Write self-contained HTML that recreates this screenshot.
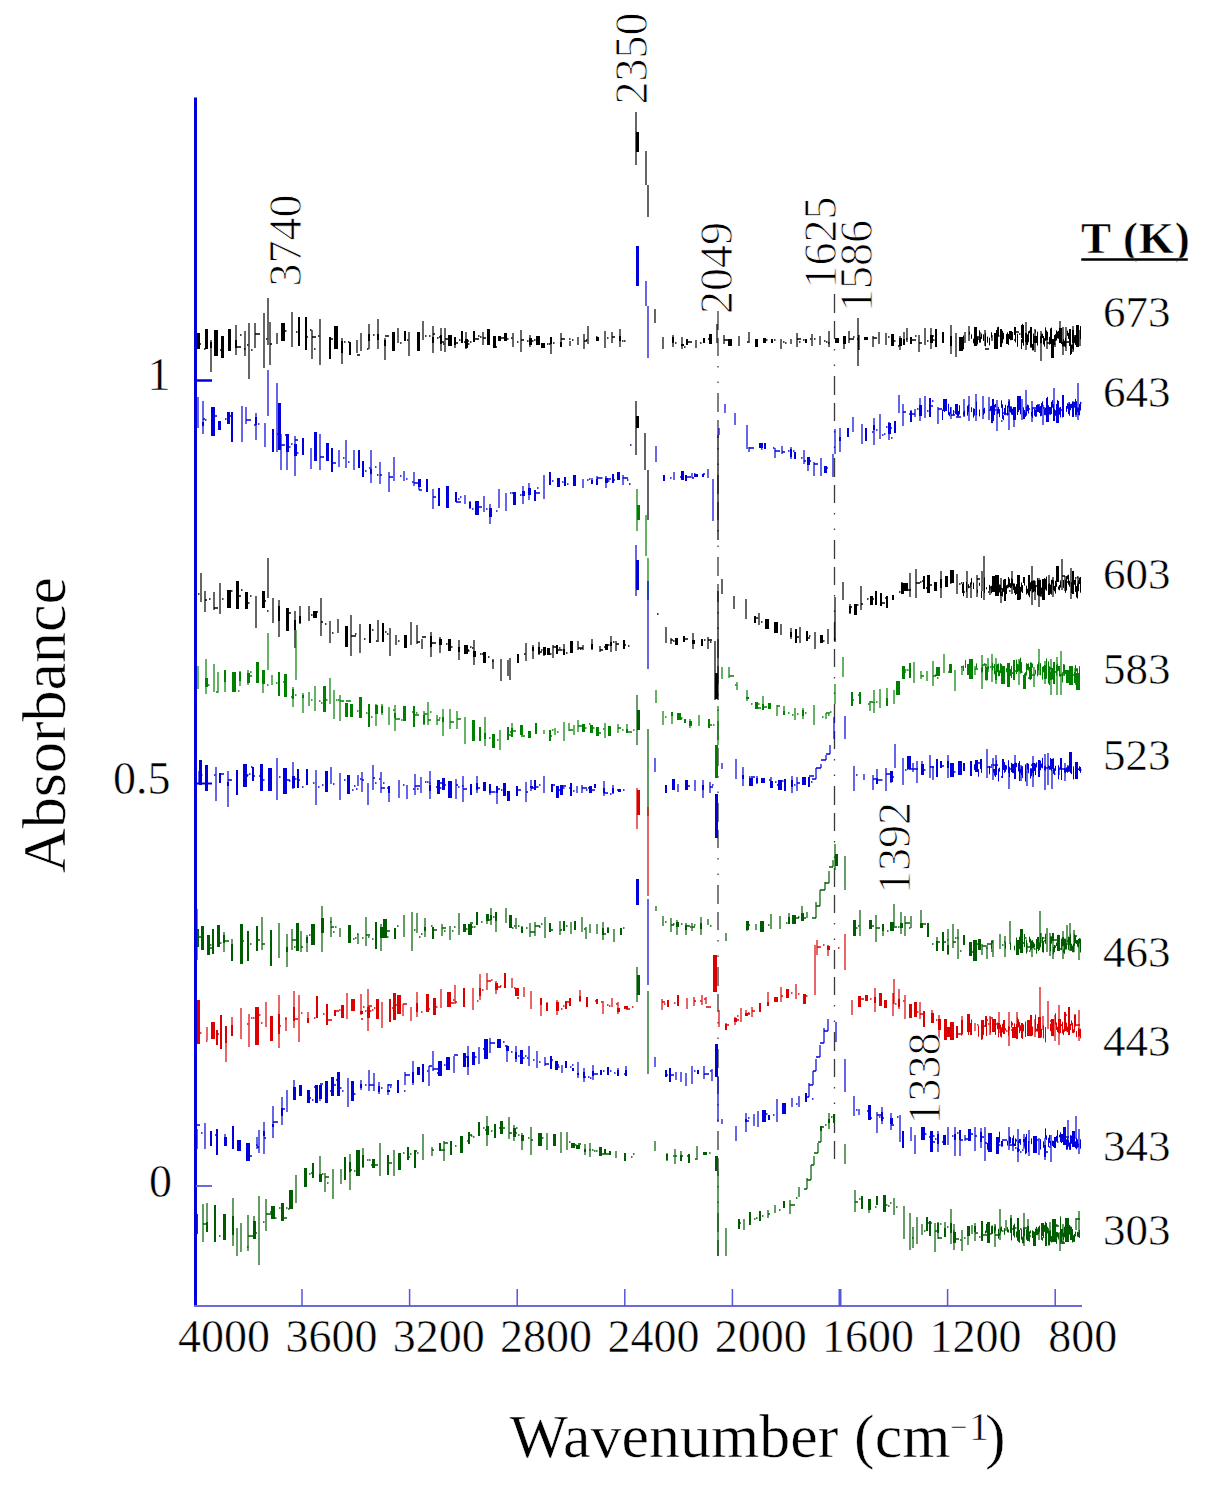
<!DOCTYPE html>
<html><head><meta charset="utf-8"><style>html,body{margin:0;padding:0;background:#fff;}svg{display:block;}</style></head>
<body><svg width="1207" height="1489" viewBox="0 0 1207 1489">
<rect width="1207" height="1489" fill="#fff"/>
<path d="M718 311V1256" stroke="#3a3a3a" stroke-width="1.3" stroke-dasharray="19 8 18 10 1.5 14 1.5 10" fill="none"/>
<path d="M834.5 294V1166" stroke="#3a3a3a" stroke-width="1.3" stroke-dasharray="19 8 18 10 1.5 14 1.5 10" fill="none"/>
<path d="M211 340V372M236 325V355M245 331V356M255 323V348M264 313V368M270 322V365M277 333V344M292 312V347M312 330V359M320 319V365M342 338V364M357 340V353M361 333V351M369 324V349M378 319V349M385 338V360M398 328V343M409 332V356M423 321V340M433 326V353M441 328V351M445 328V352M455 338V348M466 332V349M483 332V345M513 333V347M521 330V352M530 335V347M551 337V354M561 333V346M570 341V346M578 337V345M584 334V349M588 326V344M605 331V348M612 332V343M620 329V347M268 298V345M249 323V379M636 112V165M646 151V185M648 185V217M655 309V323M663 337V349M673 335V347M682 337V349M696 340V348M717 324V343M724 335V344M739 336V346M749 332V343M781 339V349M791 339V344M797 333V347M812 334V346M820 336V345M829 331V347M844 337V349M849 331V343M859 335V350M873 336V347M879 332V344M886 333V345M900 336V350M904 332V344M907 328V342M919 335V352M925 328V345M931 328V349M951 325V354M956 333V357M965 332V343M969 326V341M980 332V343M985 330V346M992 335V341M1026 322V350M1035 329V352M1041 331V361M1047 332V349M1055 335V347M1060 321V339M1063 327V355M1066 327V351M1073 326V352M1080 330V346M858 318V366" stroke="#000000" stroke-width="1.2" fill="none"/>
<path d="M211.0 342V348M236.0 340V348M299.0 317V346M306.0 317V350M330.0 337V359M342.0 341V353M350.0 342V355M369.0 334V341M378.0 334V340M385.0 340V346M405.0 331V341M433.0 337V343M441.0 335V344M455.0 337V345M462.0 331V343M474.0 331V342M551.0 337V344M561.0 342V347M620.0 336V341M673.0 337V343M687.0 339V345M704.0 338V343M772.0 339V343M806.0 339V343M904.0 339V345M911.0 337V344M936.0 329V347M943.0 332V343M951.0 336V346M980.0 337V342M1001.0 329V347M1015.0 327V335M1026.0 333V342M1031.0 327V344M1070.0 329V346M1073.0 330V343" stroke="#000000" stroke-width="2" fill="none"/>
<path d="M198.5 333V349M206.5 329V349M222.5 336V358M229.5 329V351M393.5 332V351M418.5 332V351M466.5 339V348M488.5 329V345M494.5 336V348M499.5 336V341M505.5 333V341M530.5 338V345M597.5 337V341M637.5 132V152M682.5 344V346M710.5 334V344M756.5 339V347M764.5 338V343M844.5 336V344M892.5 334V346M900.5 338V346M931.5 335V343M975.5 327V346M1007.5 334V344M1010.5 331V339M1022.5 325V338M1035.5 336V343M1052.5 339V358M1060.5 328V343M1077.5 325V347" stroke="#000000" stroke-width="3" fill="none"/>
<path d="M216.0 330V356M283.0 323V341M336.0 326V349M450.0 335V346M538.0 336V345M543.0 343V348M730.0 339V346M837.0 338V343M866.0 337V340M961.0 337V351M996.0 333V349" stroke="#000000" stroke-width="4" fill="none"/>
<path d="M962.5 339.0V347.6M963.5 335.5V349.3M969.5 331.8V334.7M971.5 334.3V338.8M973.5 338.7V343.3M974.5 338.8V343.2M976.5 337.8V344.9M977.5 336.9V344.5M978.5 338.3V339.8M979.5 330.3V341.2M981.5 333.6V338.9M983.5 334.4V340.9M985.5 333.2V346.4M987.5 336.6V342.7M989.5 337.7V345.4M991.5 332.3V337.7M996.5 330.0V336.2M997.5 327.2V335.6M998.5 326.8V336.1M1001.5 334.3V344.6M1002.5 330.8V343.2M1003.5 332.9V339.3M1007.5 332.4V342.6M1008.5 340.2V345.0M1010.5 332.6V340.2M1011.5 336.4V340.1M1012.5 332.0V340.0M1015.5 333.1V342.4M1017.5 333.8V346.7M1021.5 339.1V349.1M1022.5 323.8V342.8M1023.5 325.2V345.7M1026.5 336.0V344.8M1027.5 334.4V345.0M1028.5 331.3V342.2M1029.5 330.5V333.2M1030.5 330.3V347.6M1031.5 342.2V347.7M1032.5 344.0V350.4M1033.5 333.5V350.3M1035.5 330.3V332.6M1037.5 331.7V345.5M1040.5 336.2V343.4M1041.5 333.6V343.2M1042.5 333.8V338.1M1043.5 336.0V344.5M1044.5 338.2V346.6M1045.5 327.3V340.8M1046.5 330.4V340.3M1047.5 331.8V339.9M1049.5 336.8V344.7M1050.5 328.4V343.9M1051.5 327.7V340.5M1053.5 341.2V343.8M1054.5 335.3V344.9M1055.5 334.1V341.0M1056.5 330.4V340.5M1057.5 331.6V338.3M1058.5 330.9V338.8M1061.5 338.2V344.1M1062.5 341.7V346.5M1063.5 339.1V346.4M1064.5 340.7V346.5M1065.5 337.6V347.4M1067.5 330.6V335.9M1068.5 332.9V338.8M1069.5 331.4V342.3M1070.5 331.1V355.1M1071.5 344.6V353.9M1072.5 344.4V348.8M1073.5 336.6V350.4M1074.5 336.8V343.1M1075.5 335.3V344.9M1076.5 337.7V341.5M1077.5 336.7V339.2M1078.5 332.3V339.0M1080.5 326.1V339.2" stroke="#000000" stroke-width="1" fill="none"/>
<path d="M204 349h1.5M215 343h1.5M220 350h1.5M240 335h1.5M244 349h1.5M247 345h1.5M251 350h1.5M266 339h1.5M285 331h1.5M296 332h1.5M298 339h1.5M310 330h1.5M314 349h1.5M318 336h1.5M344 342h1.5M348 342h1.5M367 349h1.5M373 335h1.5M400 343h1.5M407 340h1.5M425 336h1.5M429 336h1.5M437 338h1.5M439 337h1.5M443 344h1.5M459 340h1.5M464 342h1.5M468 344h1.5M470 342h1.5M478 336h1.5M480 337h1.5M501 338h1.5M507 339h1.5M511 338h1.5M517 342h1.5M527 341h1.5M532 341h1.5M534 340h1.5M547 344h1.5M549 344h1.5M553 343h1.5M569 339h1.5M572 340h1.5M586 340h1.5M596 337h1.5M607 338h1.5M622 341h1.5M624 341h1.5M675 343h1.5M684 347h1.5M700 343h1.5M708 339h1.5M728 340h1.5M747 342h1.5M755 341h1.5M766 340h1.5M774 340h1.5M783 342h1.5M785 343h1.5M799 342h1.5M803 340h1.5M810 339h1.5M814 339h1.5M824 341h1.5M826 342h1.5M828 343h1.5M853 337h1.5M857 339h1.5M888 337h1.5M894 341h1.5M898 346h1.5M906 339h1.5M915 336h1.5M927 341h1.5M933 340h1.5M994 338h1.5M998 336h1.5M1014 340h1.5M1019 334h1.5M1033 341h1.5M1054 344h1.5M1068 338h1.5M1072 337h1.5M198 344h3M216 338h2M236 347h5M255 334h5M270 344h2M306 337h2M312 337h4M330 339h3M357 355h3M385 336h4M433 334h2M441 342h3M445 339h3M455 343h3M466 341h3M474 339h5M483 338h3M494 347h3M499 338h5M521 340h3M561 339h4M584 341h3M612 337h3M687 342h5M710 340h2M724 340h4M797 339h4M849 339h5M873 338h4M911 340h5M919 343h3M931 336h3M975 337h4M985 349h4M996 343h2M1015 332h4M1047 343h5M1066 342h4M1073 336h3" stroke="#000000" stroke-width="1.5" fill="none"/>
<path d="M198 397V428M203 401V434M242 406V442M246 407V424M256 413V440M265 423V447M281 434V470M287 440V470M295 436V476M311 448V469M320 434V470M339 450V467M346 440V468M354 450V470M371 450V483M380 462V484M389 472V492M394 457V481M404 471V481M414 472V486M419 479V490M433 489V509M465 495V504M470 501V509M484 496V512M490 504V524M499 489V508M506 493V511M523 486V504M529 483V500M544 475V499M583 479V488M592 478V484M597 476V483M606 476V488M623 475V485M268 370V416M277 383V452M646 281V306M648 306V358M656 446V462M664 475V481M674 472V480M692 473V478M708 469V478M713 479V521M719 428V435M725 404V413M735 413V425M747 425V449M747 448V449M749 447V452M775 448V458M782 446V454M791 447V459M804 450V464M808 458V471M814 462V476M821 458V476M833 454V477M835 429V454M840 428V452M853 417V432M862 424V444M874 418V445M880 414V439M889 422V440M899 395V413M903 404V426M911 410V420M915 409V417M920 398V421M925 396V418M938 407V424M951 407V419M964 399V417M969 396V421M976 394V421M983 396V419M989 397V420M997 400V431M1009 399V430M1014 408V427M1022 399V420M1026 390V416M1032 401V422M1043 405V425M1054 388V412M1069 402V411M1073 401V414M1076 402V417M1078 398V409M1078 383V420" stroke="#0000dd" stroke-width="1.2" fill="none"/>
<path d="M203.0 422V426M232.0 412V442M256.0 417V425M273.0 429V452M303.0 438V455M332.0 448V472M359.0 450V468M363.0 461V477M371.0 469V474M427.0 479V492M439.0 488V506M456.0 492V502M470.0 502V508M535.0 490V501M550.0 472V485M565.0 477V486M592.0 480V484M597.0 479V485M613.0 474V483M664.0 475V481M686.0 475V481M703.0 474V477M765.0 443V449M791.0 449V457M795.0 452V459M840.0 437V441M848.0 428V437M866.0 428V441M874.0 425V430M895.0 421V433M911.0 411V422M930.0 398V417M993.0 399V421M1005.0 408V415M1063.0 395V417M1073.0 402V417M1076.0 402V415" stroke="#0000dd" stroke-width="2" fill="none"/>
<path d="M219.5 421V430M228.5 412V424M287.5 434V452M295.5 444V456M315.5 432V461M327.5 443V461M419.5 479V487M447.5 486V508M490.5 508V517M514.5 492V505M523.5 491V496M529.5 488V495M558.5 478V487M574.5 475V486M606.5 478V483M618.5 472V480M279.5 403V450M637.5 246V286M682.5 471V480M808.5 457V465M825.5 466V473M889.5 423V434M920.5 405V416M956.5 404V414M1014.5 407V420M1037.5 405V412M1047.5 408V422M1050.5 407V414M1057.5 404V423" stroke="#0000dd" stroke-width="3" fill="none"/>
<path d="M213.0 407V436M477.0 501V515M696.0 474V477M761.0 443V448M945.0 399V411M1019.0 396V410" stroke="#0000dd" stroke-width="4" fill="none"/>
<path d="M942.5 409.6V420.0M944.5 406.5V412.0M948.5 403.8V415.0M949.5 412.0V416.3M950.5 407.4V413.8M953.5 410.1V415.4M956.5 410.4V414.8M957.5 413.4V416.7M958.5 411.0V416.2M959.5 405.2V414.5M963.5 411.9V415.4M964.5 410.4V416.0M967.5 405.7V415.7M968.5 404.5V412.2M971.5 407.2V412.1M973.5 408.3V417.6M974.5 408.8V415.6M976.5 401.5V415.1M979.5 409.5V416.4M983.5 408.7V414.9M984.5 407.8V413.5M990.5 406.2V411.1M991.5 405.8V423.1M992.5 408.8V423.1M994.5 404.7V415.0M995.5 403.9V407.4M997.5 409.1V413.9M998.5 406.8V413.6M999.5 409.1V417.2M1001.5 400.3V407.9M1002.5 404.3V418.9M1003.5 415.2V420.2M1005.5 404.8V415.2M1007.5 405.6V415.6M1008.5 401.3V407.5M1009.5 400.6V411.8M1010.5 406.3V412.5M1011.5 406.4V414.6M1012.5 408.7V415.0M1013.5 410.6V412.8M1014.5 411.1V417.2M1015.5 411.4V416.7M1017.5 407.1V415.0M1018.5 404.1V411.9M1020.5 403.3V414.3M1023.5 407.3V419.1M1024.5 410.0V419.0M1025.5 412.2V416.9M1026.5 406.4V415.1M1027.5 404.5V411.2M1028.5 405.1V413.6M1031.5 412.1V416.4M1032.5 408.3V418.0M1034.5 408.6V415.7M1035.5 409.4V416.9M1036.5 409.2V416.6M1037.5 410.2V412.1M1039.5 406.8V413.0M1040.5 406.1V416.3M1041.5 403.1V415.9M1042.5 401.3V406.7M1044.5 409.1V415.1M1045.5 407.7V415.2M1046.5 398.0V414.7M1047.5 396.8V408.0M1048.5 405.3V416.7M1049.5 408.0V414.5M1050.5 409.3V414.8M1051.5 401.7V412.9M1052.5 400.1V407.7M1053.5 404.3V421.1M1054.5 409.1V421.0M1055.5 410.9V415.8M1056.5 408.0V415.9M1057.5 399.9V413.5M1058.5 400.9V414.8M1059.5 407.6V414.8M1060.5 406.9V417.4M1062.5 408.2V417.5M1063.5 406.9V412.5M1066.5 406.0V411.9M1067.5 403.3V408.8M1068.5 404.0V414.1M1069.5 402.4V415.8M1070.5 404.0V410.2M1071.5 403.7V408.1M1072.5 405.5V413.2M1074.5 401.9V407.6M1075.5 398.9V406.7M1076.5 401.2V412.0M1077.5 407.4V412.1M1078.5 407.6V415.0M1079.5 403.9V415.4M1080.5 401.8V410.5" stroke="#0000dd" stroke-width="1" fill="none"/>
<path d="M205 420h1.5M211 430h1.5M225 419h1.5M254 425h1.5M258 424h1.5M277 434h1.5M285 435h1.5M289 447h1.5M291 444h1.5M297 453h1.5M343 458h1.5M348 462h1.5M365 471h1.5M369 468h1.5M375 467h1.5M377 475h1.5M400 476h1.5M406 479h1.5M412 482h1.5M458 499h1.5M460 497h1.5M472 509h1.5M486 509h1.5M496 511h1.5M510 493h1.5M512 493h1.5M520 495h1.5M522 493h1.5M537 488h1.5M552 481h1.5M562 482h1.5M567 484h1.5M587 480h1.5M589 479h1.5M601 478h1.5M608 481h1.5M612 480h1.5M627 480h1.5M630 445h1.5M670 478h1.5M680 477h1.5M694 474h1.5M761 449h1.5M773 448h1.5M788 451h1.5M793 451h1.5M801 458h1.5M872 432h1.5M876 430h1.5M882 435h1.5M884 434h1.5M886 427h1.5M891 438h1.5M909 414h1.5M917 409h1.5M927 411h1.5M932 401h1.5M953 412h1.5M995 410h1.5M1001 421h1.5M1003 413h1.5M1039 407h1.5M1045 411h1.5M1080 403h1.5M203 419h2M213 416h4M228 416h3M246 420h5M281 445h4M295 440h3M320 457h4M332 463h4M380 475h2M389 477h4M414 483h5M419 490h3M433 497h3M456 502h5M477 507h5M535 493h5M597 478h5M606 479h5M613 480h2M623 478h5M686 477h5M692 478h2M703 474h2M749 448h5M761 447h2M775 451h5M782 452h3M804 461h2M808 461h3M814 464h4M825 468h3M889 428h3M903 412h3M911 414h4M920 408h2M930 406h3M938 409h4M951 415h4M956 417h5M989 410h3M1005 414h4M1019 409h2M1026 409h4M1032 408h4M1037 405h3M1043 408h2M1050 409h2M1054 411h5M1057 410h5" stroke="#0000dd" stroke-width="1.5" fill="none"/>
<path d="M196 582V601M201 573V602M205 591V612M214 592V610M220 583V614M256 596V628M273 598V623M279 600V637M295 611V648M300 606V624M309 606V621M321 598V636M330 621V643M338 619V633M351 615V656M360 624V653M378 620V642M390 628V656M396 635V645M411 622V645M417 625V644M422 639V649M431 632V657M440 637V653M459 640V660M474 640V665M493 659V669M501 659V681M510 658V680M526 643V661M533 645V659M539 642V655M544 649V656M553 645V658M564 644V653M578 641V650M583 645V650M592 639V650M600 646V652M606 644V649M611 636V652M616 641V651M268 558V598M508 660V676M636 401V455M645 433V470M648 470V520M666 627V643M671 638V644M684 636V641M693 633V649M708 637V649M715 641V700M718 591V700M718 435V540M722 579V594M734 596V609M746 599V619M759 613V625M781 624V635M791 628V639M800 627V643M815 632V649M828 629V644M835 597V642M843 582V600M850 604V614M861 586V610M902 582V592M910 573V597M916 569V598M941 571V598M957 574V594M967 571V598M971 582V598M977 575V597M982 571V591M990 586V595M1001 578V603M1012 571V594M1032 566V605M1035 581V600M1039 578V607M1049 575V595M1053 577V597M1062 559V590M1065 576V591M1071 568V599M1078 577V586M984 556V600" stroke="#000000" stroke-width="1.2" fill="none"/>
<path d="M196.0 591V604M279.0 606V621M295.0 620V630M300.0 616V623M370.0 624V643M383.0 623V642M431.0 636V647M459.0 647V652M518.0 654V663M533.0 647V651M539.0 647V654M557.0 645V654M564.0 649V655M592.0 644V649M611.0 642V646M624.0 640V649M684.0 636V642M702.0 639V646M755.0 616V623M791.0 632V637M796.0 629V643M807.0 631V641M850.0 606V613M876.0 591V605M881.0 593V606M887.0 596V608M893.0 595V600M924.0 576V589M941.0 579V588M963.0 584V593M1005.0 579V601M1024.0 577V583M1029.0 575V592M1032.0 581V589M1035.0 585V591M1049.0 587V595M1073.0 571V594" stroke="#000000" stroke-width="2" fill="none"/>
<path d="M237.5 581V609M246.5 592V609M263.5 591V608M287.5 608V631M346.5 626V647M405.5 635V648M440.5 639V645M449.5 639V651M474.5 651V657M484.5 652V663M544.5 647V655M548.5 648V655M571.5 641V653M606.5 644V650M637.5 416V428M676.5 638V645M693.5 640V644M716.5 673V699M821.5 635V643M855.5 604V615M871.5 596V605M902.5 583V594M928.5 575V593M935.5 582V591M946.5 576V587M993.5 576V592M1018.5 575V600M1039.5 580V591M1043.5 579V600M1057.5 566V582" stroke="#000000" stroke-width="3" fill="none"/>
<path d="M229.0 590V608M315.0 611V618M466.0 645V654M767.0 619V629M776.0 622V633M906.0 583V591M952.0 570V583M997.0 575V596" stroke="#000000" stroke-width="4" fill="none"/>
<path d="M963.5 582.1V596.2M966.5 581.7V591.8M968.5 584.2V588.3M970.5 583.2V586.5M971.5 578.2V584.3M973.5 582.6V589.0M977.5 589.6V592.8M979.5 582.7V585.9M981.5 591.1V598.0M984.5 577.4V593.0M986.5 587.3V589.3M989.5 584.9V590.6M991.5 585.8V593.2M994.5 581.3V591.8M995.5 581.0V585.0M997.5 579.5V594.4M998.5 589.3V592.8M999.5 584.5V592.5M1000.5 584.8V596.0M1001.5 591.5V596.0M1002.5 588.4V596.5M1003.5 579.8V591.9M1004.5 581.4V584.4M1005.5 582.9V591.9M1006.5 585.3V594.0M1007.5 584.6V588.3M1008.5 577.0V587.7M1009.5 578.8V587.1M1010.5 583.2V588.1M1011.5 578.1V587.7M1012.5 579.1V585.9M1013.5 583.3V589.9M1014.5 583.6V593.1M1015.5 586.5V595.0M1016.5 584.1V594.0M1017.5 584.3V587.2M1018.5 579.6V586.8M1019.5 577.8V599.4M1020.5 586.9V599.3M1021.5 582.5V591.7M1022.5 585.1V593.0M1024.5 577.7V585.6M1026.5 585.6V594.5M1027.5 588.8V593.4M1028.5 587.9V595.4M1029.5 586.4V597.1M1030.5 583.1V591.2M1032.5 583.3V592.7M1033.5 580.3V592.1M1034.5 580.4V591.0M1035.5 586.7V592.2M1037.5 578.1V595.2M1038.5 590.1V596.2M1039.5 581.7V595.9M1040.5 579.8V596.5M1041.5 587.6V594.8M1042.5 587.1V591.9M1043.5 583.0V589.1M1044.5 578.2V588.7M1045.5 578.8V589.7M1046.5 576.6V590.7M1048.5 584.2V590.3M1049.5 583.0V588.8M1050.5 584.6V593.8M1051.5 579.8V594.6M1052.5 579.7V583.7M1053.5 580.5V589.9M1054.5 586.0V591.3M1055.5 580.7V593.6M1056.5 582.4V586.8M1058.5 586.5V589.6M1059.5 585.0V590.3M1060.5 580.4V587.6M1063.5 579.9V587.9M1065.5 579.6V592.8M1066.5 576.1V590.5M1067.5 575.3V579.2M1068.5 574.7V584.7M1069.5 580.8V586.7M1071.5 582.2V593.0M1072.5 583.9V589.2M1073.5 580.5V588.7M1074.5 580.0V584.8M1075.5 579.4V591.9M1076.5 586.1V597.4M1077.5 583.7V598.5M1078.5 580.5V591.2M1079.5 577.7V584.1M1080.5 577.0V592.7" stroke="#000000" stroke-width="1" fill="none"/>
<path d="M198 594h1.5M209 599h1.5M222 599h1.5M231 591h1.5M239 596h1.5M241 590h1.5M245 593h1.5M248 603h1.5M250 596h1.5M267 611h1.5M311 615h1.5M325 624h1.5M332 633h1.5M355 634h1.5M364 639h1.5M372 630h1.5M376 641h1.5M385 632h1.5M387 634h1.5M398 641h1.5M404 645h1.5M439 641h1.5M446 644h1.5M451 647h1.5M468 651h1.5M470 647h1.5M472 648h1.5M480 654h1.5M482 654h1.5M488 657h1.5M492 661h1.5M524 654h1.5M541 650h1.5M550 654h1.5M559 648h1.5M561 650h1.5M566 653h1.5M580 649h1.5M604 647h1.5M608 645h1.5M613 642h1.5M628 646h1.5M629 484h1.5M657 614h1.5M673 641h1.5M686 639h1.5M704 640h1.5M710 642h1.5M761 622h1.5M765 625h1.5M809 636h1.5M823 641h1.5M834 639h1.5M857 605h1.5M867 599h1.5M885 598h1.5M899 592h1.5M901 589h1.5M920 582h1.5M922 581h1.5M926 588h1.5M950 583h1.5M959 584h1.5M961 583h1.5M969 587h1.5M988 592h1.5M995 577h1.5M1009 591h1.5M1016 590h1.5M1041 596h1.5M1055 583h1.5M1067 582h1.5M1075 578h1.5M1077 577h1.5M205 600h2M214 608h4M237 596h4M263 601h3M287 613h4M315 612h3M321 622h2M351 636h5M417 642h3M422 637h4M431 643h5M466 650h3M539 652h3M553 647h4M557 650h5M578 648h5M600 650h3M616 644h3M624 645h2M671 640h2M684 639h4M708 640h4M755 618h3M796 637h3M807 638h3M850 607h2M855 606h2M861 604h2M871 599h3M881 603h4M906 590h5M916 583h4M928 585h4M963 592h2M977 579h3M990 588h2M1001 589h3M1029 583h2M1032 587h4M1035 586h2M1062 576h3M1073 581h2" stroke="#000000" stroke-width="1.5" fill="none"/>
<path d="M198 666V689M206 659V694M214 664V692M218 672V693M225 675V692M240 671V686M248 670V685M263 672V693M272 675V685M293 687V707M303 693V713M309 692V706M315 686V711M330 678V704M334 690V719M340 695V721M376 704V726M382 704V715M389 707V725M395 705V731M424 711V725M428 702V725M437 715V725M443 709V736M450 709V729M457 711V729M465 717V744M485 717V746M500 730V750M512 723V734M544 730V734M555 728V735M564 722V741M569 723V731M574 725V735M578 720V732M605 723V738M618 724V733M627 724V733M268 633V670M296 630V680M637 489V531M646 515V556M648 558V600M656 690V703M663 711V725M672 713V724M690 719V728M699 715V726M718 706V745M722 667V679M729 667V678M737 682V690M747 690V701M763 696V709M769 703V709M777 705V716M784 706V715M795 708V720M803 708V719M814 705V725M826 713V719M835 684V704M843 657V677M870 701V711M874 690V713M880 689V708M887 688V705M894 690V704M914 662V683M921 671V679M927 671V681M933 661V686M944 654V673M955 670V691M962 666V675M975 666V675M982 655V689M988 658V672M992 654V682M996 658V684M1019 659V685M1034 667V687M1039 649V675M1045 661V684M1051 659V695M1057 657V695M1061 651V695M1075 668V682" stroke="#008000" stroke-width="1.2" fill="none"/>
<path d="M225.0 670V682M240.0 672V681M279.0 672V696M293.0 689V699M303.0 695V698M369.0 704V727M382.0 706V713M395.0 713V718M414.0 706V727M424.0 715V724M443.0 717V722M480.0 727V741M485.0 733V739M508.0 727V740M512.0 728V737M536.0 723V734M550.0 730V741M627.0 729V733M672.0 712V716M685.0 719V723M709.0 719V728M763.0 704V710M784.0 711V715M803.0 710V716M852.0 692V706M860.0 692V704M874.0 702V703M887.0 698V706M910.0 663V678M968.0 664V675M996.0 671V680M1014.0 660V680M1045.0 665V679M1051.0 672V680M1054.0 662V684M1075.0 672V683" stroke="#008000" stroke-width="2" fill="none"/>
<path d="M206.5 678V687M248.5 673V683M257.5 662V683M263.5 670V684M285.5 674V697M324.5 686V712M346.5 703V717M351.5 704V717M360.5 697V718M376.5 705V714M404.5 706V721M473.5 720V741M493.5 734V748M521.5 725V735M529.5 731V738M583.5 724V732M591.5 725V733M597.5 727V736M609.5 726V736M638.5 505V520M690.5 721V726M716.5 745V778M747.5 697V699M756.5 702V709M769.5 703V709M903.5 666V679M950.5 664V673M1008.5 663V687M1024.5 675V689M1030.5 667V679M1067.5 670V683" stroke="#008000" stroke-width="3" fill="none"/>
<path d="M234.0 672V692M679.0 713V720M898.0 681V695M938.0 667V676M971.0 659V679M1003.0 666V684M1071.0 666V685M1078.0 673V690" stroke="#008000" stroke-width="4" fill="none"/>
<path d="M963.5 665.4V671.1M965.5 659.9V667.9M969.5 667.2V675.8M971.5 669.8V674.0M976.5 663.4V668.4M981.5 667.5V672.7M982.5 666.2V672.1M985.5 665.9V680.2M986.5 666.6V680.6M987.5 666.4V680.2M988.5 666.4V669.2M992.5 663.1V670.5M994.5 664.1V674.3M996.5 664.5V673.8M997.5 664.1V672.3M998.5 663.5V676.2M999.5 670.3V676.2M1000.5 663.3V673.2M1001.5 664.1V669.5M1002.5 665.8V672.1M1006.5 668.1V672.3M1008.5 665.1V670.9M1010.5 669.1V675.9M1011.5 665.9V678.0M1014.5 671.4V675.9M1016.5 659.6V674.0M1017.5 663.9V672.0M1018.5 664.7V670.9M1019.5 660.5V671.5M1020.5 657.6V673.6M1021.5 662.1V673.1M1023.5 681.2V682.7M1024.5 673.4V683.4M1025.5 672.2V675.8M1026.5 663.2V675.5M1027.5 664.0V669.9M1028.5 663.4V670.5M1029.5 667.0V679.4M1030.5 662.3V679.9M1031.5 662.6V669.4M1032.5 663.6V667.6M1035.5 669.8V674.5M1037.5 664.3V676.3M1038.5 662.2V670.3M1040.5 663.2V675.3M1042.5 666.8V679.6M1043.5 666.0V672.4M1046.5 658.4V678.8M1048.5 661.4V683.6M1049.5 666.3V685.2M1050.5 667.2V669.4M1051.5 667.8V672.4M1052.5 668.0V679.5M1053.5 670.8V682.1M1054.5 669.8V673.8M1055.5 671.1V672.8M1056.5 664.8V675.6M1057.5 663.7V671.4M1058.5 666.0V670.8M1059.5 666.0V676.5M1060.5 673.8V676.6M1062.5 672.2V682.4M1063.5 664.1V673.9M1064.5 664.5V674.9M1065.5 669.9V674.1M1069.5 673.0V681.0M1070.5 669.7V682.4M1071.5 669.2V683.9M1072.5 671.8V684.0M1075.5 665.0V680.4M1076.5 668.3V671.4M1077.5 668.3V679.0M1078.5 673.5V678.9M1079.5 666.2V676.0" stroke="#008000" stroke-width="1" fill="none"/>
<path d="M208 685h1.5M216 692h1.5M238 691h1.5M250 672h1.5M267 685h1.5M276 683h1.5M283 682h1.5M291 697h1.5M295 695h1.5M311 700h1.5M319 701h1.5M321 703h1.5M323 691h1.5M326 700h1.5M336 700h1.5M338 700h1.5M357 711h1.5M366 713h1.5M371 717h1.5M393 710h1.5M401 720h1.5M403 719h1.5M412 712h1.5M416 713h1.5M426 714h1.5M430 712h1.5M439 718h1.5M489 738h1.5M497 740h1.5M510 732h1.5M552 730h1.5M557 732h1.5M585 728h1.5M589 724h1.5M593 728h1.5M603 729h1.5M622 730h1.5M633 730h1.5M665 717h1.5M681 718h1.5M713 725h1.5M735 685h1.5M751 704h1.5M758 704h1.5M788 713h1.5M792 715h1.5M797 714h1.5M805 713h1.5M822 717h1.5M828 715h1.5M830 712h1.5M858 695h1.5M868 704h1.5M876 702h1.5M902 674h1.5M905 670h1.5M907 670h1.5M935 675h1.5M937 678h1.5M948 672h1.5M961 667h1.5M984 664h1.5M990 667h1.5M994 671h1.5M1012 673h1.5M1021 672h1.5M1028 678h1.5M1073 675h1.5M248 676h4M257 682h2M263 679h2M285 687h2M324 698h2M340 701h4M346 701h5M376 708h2M395 719h5M414 715h5M424 714h3M428 720h3M437 720h3M450 722h4M457 719h4M508 735h5M512 731h4M521 736h4M550 736h2M569 730h4M578 726h4M591 730h2M597 733h4M609 732h2M618 728h3M627 732h5M679 719h3M709 725h3M729 676h5M756 708h5M763 707h4M777 706h3M826 713h4M852 700h2M870 702h3M903 672h3M921 676h3M933 676h3M975 669h3M982 665h5M992 667h2M1008 673h2M1014 671h3M1030 675h5M1061 675h4M1075 684h4" stroke="#008000" stroke-width="1.5" fill="none"/>
<path d="M199 771V784M216 767V801M228 771V807M277 758V800M293 762V789M316 770V805M331 767V784M340 773V800M358 775V786M362 772V792M368 783V805M373 765V790M381 772V793M389 786V802M399 780V798M407 785V799M415 774V795M421 777V793M430 771V799M456 779V799M463 776V802M477 776V793M490 785V795M497 786V804M526 782V802M531 780V791M544 776V793M577 786V793M582 785V793M590 786V793M604 781V796M613 785V794M636 545V596M648 581V669M655 758V772M678 784V792M695 780V791M703 780V798M710 782V793M722 763V769M736 759V779M743 767V786M757 776V784M771 777V786M792 776V793M797 777V791M816 768V779M821 764V768M826 755V760M830 745V754M834 717V739M845 716V739M854 766V791M864 774V780M873 775V790M877 769V782M886 768V791M891 771V783M895 744V768M903 758V785M913 763V772M917 761V783M922 761V774M930 755V778M933 766V780M948 755V778M987 749V778M993 758V780M996 755V775M1009 767V789M1015 755V776M1021 765V781M1027 763V786M1033 756V787M1045 754V790M1048 753V785M1052 770V789M1059 767V775M1065 763V781" stroke="#0000dd" stroke-width="1.2" fill="none"/>
<path d="M220.0 773V783M228.0 782V786M237.0 770V795M253.0 767V781M298.0 769V788M307.0 769V785M389.0 786V793M430.0 785V791M471.0 784V795M477.0 783V790M490.0 784V793M497.0 786V793M517.0 786V796M535.0 780V790M552.0 784V792M571.0 783V796M595.0 784V788M604.0 788V793M613.0 788V793M666.0 785V793M703.0 785V790M743.0 775V779M757.0 778V783M785.0 779V791M792.0 780V787M809.0 777V787M877.0 778V784M937.0 759V777M941.0 761V768M948.0 761V768M964.0 763V771M971.0 761V776M981.0 759V769M996.0 765V775M1003.0 759V770M1009.0 768V773M1015.0 767V779M1021.0 769V773M1039.0 760V777" stroke="#0000dd" stroke-width="2" fill="none"/>
<path d="M206.5 765V791M261.5 764V791M293.5 776V788M326.5 771V792M348.5 775V794M438.5 780V794M443.5 778V790M484.5 782V791M504.5 783V796M508.5 791V801M531.5 786V788M557.5 786V798M561.5 785V795M590.5 786V793M619.5 789V792M200.5 760V785M637.5 560V590M673.5 779V790M686.5 780V790M716.5 794V838M771.5 781V788M891.5 771V782M922.5 764V775M976.5 760V772M1033.5 763V771M1070.5 752V770M1076.5 762V779" stroke="#0000dd" stroke-width="3" fill="none"/>
<path d="M245.0 764V787M270.0 768V791M285.0 768V794M450.0 781V798M751.0 778V786M763.0 778V783M780.0 780V790M804.0 777V785M909.0 756V769M952.0 763V777M960.0 761V775" stroke="#0000dd" stroke-width="4" fill="none"/>
<path d="M971.5 768.5V774.0M974.5 764.3V769.9M976.5 766.6V770.4M978.5 769.2V776.7M981.5 768.6V772.9M989.5 765.9V774.3M993.5 769.1V772.6M994.5 769.0V775.6M995.5 773.4V777.0M996.5 760.1V774.9M998.5 768.6V781.6M999.5 767.7V771.7M1001.5 776.2V777.7M1002.5 764.6V778.0M1004.5 762.1V772.8M1005.5 764.9V771.8M1006.5 765.4V769.6M1008.5 760.2V771.3M1009.5 766.8V777.0M1011.5 762.9V772.0M1012.5 763.7V772.9M1013.5 764.0V773.1M1014.5 763.0V770.7M1015.5 762.5V770.4M1016.5 763.0V767.2M1018.5 763.1V771.5M1019.5 761.0V781.1M1021.5 766.5V775.2M1022.5 766.2V778.1M1025.5 764.4V781.6M1027.5 763.1V769.5M1028.5 763.8V773.2M1030.5 768.3V778.5M1031.5 768.3V776.2M1032.5 769.1V773.2M1033.5 768.6V776.6M1035.5 763.7V775.1M1036.5 762.4V767.4M1038.5 763.3V772.8M1039.5 764.2V771.2M1040.5 760.6V770.3M1041.5 763.6V767.7M1042.5 757.8V768.3M1044.5 766.2V770.3M1045.5 765.7V770.7M1048.5 765.2V768.3M1049.5 766.0V769.8M1050.5 758.0V769.7M1051.5 759.0V770.9M1052.5 758.7V769.3M1053.5 758.3V773.7M1054.5 768.3V774.7M1055.5 765.8V770.9M1058.5 765.2V779.4M1060.5 758.0V769.2M1061.5 758.1V780.0M1064.5 768.0V772.6M1065.5 768.4V773.3M1066.5 767.4V771.9M1067.5 766.8V772.7M1068.5 766.1V771.9M1069.5 768.9V771.6M1070.5 765.9V773.0M1071.5 768.4V774.1M1073.5 766.3V779.4M1075.5 768.0V775.0M1076.5 769.1V773.5M1077.5 766.2V772.1M1078.5 768.4V770.1M1079.5 766.2V771.1M1080.5 767.0V772.9" stroke="#0000dd" stroke-width="1" fill="none"/>
<path d="M201 775h1.5M214 775h1.5M247 775h1.5M249 774h1.5M251 767h1.5M259 776h1.5M263 780h1.5M279 777h1.5M289 781h1.5M295 779h1.5M302 787h1.5M313 783h1.5M318 787h1.5M322 785h1.5M333 784h1.5M344 780h1.5M352 790h1.5M354 786h1.5M356 789h1.5M360 779h1.5M375 783h1.5M379 779h1.5M383 783h1.5M387 788h1.5M403 785h1.5M413 789h1.5M417 789h1.5M425 782h1.5M427 782h1.5M429 783h1.5M436 787h1.5M440 788h1.5M458 787h1.5M462 786h1.5M494 792h1.5M501 790h1.5M537 787h1.5M539 785h1.5M559 790h1.5M563 788h1.5M569 788h1.5M573 791h1.5M586 790h1.5M588 788h1.5M610 794h1.5M617 790h1.5M623 790h1.5M712 785h1.5M749 777h1.5M761 781h1.5M769 780h1.5M775 782h1.5M777 785h1.5M782 781h1.5M794 785h1.5M803 780h1.5M811 782h1.5M856 775h1.5M881 780h1.5M905 770h1.5M907 769h1.5M924 770h1.5M950 766h1.5M954 772h1.5M991 765h1.5M1025 772h1.5M1031 765h1.5M1054 774h1.5M1067 766h1.5M1080 770h1.5M220 774h4M228 780h4M245 776h3M253 776h2M285 780h5M298 780h2M362 780h2M373 778h2M381 788h4M415 786h5M438 783h5M443 785h3M456 785h2M463 789h4M477 788h3M490 792h5M497 789h3M517 790h4M526 792h2M531 788h3M535 787h3M552 785h3M561 786h5M582 788h5M590 790h5M604 793h4M686 786h4M710 787h3M751 777h4M797 783h3M809 776h5M812 779h4M816 768h5M821 760h5M826 754h4M873 779h5M877 780h4M886 774h4M891 777h3M909 769h4M913 769h5M930 767h4M941 766h3M976 763h5M987 767h5M993 765h5M1009 769h5M1027 767h2M1045 768h3M1059 769h5" stroke="#0000dd" stroke-width="1.5" fill="none"/>
<path d="M197 909V960M224 932V952M232 939V958M262 917V950M279 923V958M287 934V967M292 929V950M301 931V952M307 935V952M322 906V952M331 917V937M340 928V937M358 934V944M366 917V946M381 924V951M404 915V937M412 912V951M417 913V933M425 918V937M442 924V936M450 926V940M459 913V935M487 917V924M491 908V925M496 912V932M506 908V923M516 918V929M522 926V930M530 923V937M535 922V936M545 917V938M560 921V935M571 922V934M582 917V932M586 927V939M590 924V933M597 924V934M603 922V940M608 927V933M614 929V942M621 928V934M637 695V745M648 729V816M656 906V911M663 916V926M671 918V932M677 920V935M686 923V935M692 923V931M701 917V935M708 919V925M726 933V941M747 921V931M756 924V930M771 914V929M780 916V929M789 913V922M802 906V918M807 912V918M816 902V918M820 890V906M825 882V890M829 871V883M833 860V867M835 844V870M845 856V890M860 910V936M876 915V942M883 925V936M901 912V934M905 916V936M911 916V928M921 910V926M937 937V948M948 929V955M953 924V948M958 929V959M982 944V955M987 945V959M993 940V957M1000 934V949M1005 936V957M1010 921V944M1027 943V952M1032 945V957M1041 933V943M1047 928V952M1050 933V956M1053 934V959M1063 931V959M1067 925V945M1070 923V951M1074 930V952M1079 939V960M894 904V926M1040 911V944" stroke="#005c00" stroke-width="1.2" fill="none"/>
<path d="M213.0 929V954M224.0 935V943M232.0 944V961M248.0 931V961M257.0 926V951M271.0 930V966M287.0 947V952M307.0 937V943M376.0 922V949M395.0 928V939M425.0 927V931M433.0 927V939M477.0 912V925M491.0 915V920M496.0 912V921M522.0 927V933M550.0 923V932M564.0 921V931M575.0 921V930M603.0 928V935M608.0 928V933M621.0 928V935M686.0 925V930M701.0 923V929M789.0 917V924M883.0 924V931M928.0 923V937M937.0 941V951M943.0 932V951M948.0 945V954M964.0 935V945M1038.0 937V949M1053.0 933V941M1063.0 937V946M1070.0 937V945" stroke="#005c00" stroke-width="2" fill="none"/>
<path d="M197.5 929V947M202.5 926V950M208.5 935V955M218.5 925V947M241.5 924V964M297.5 923V951M322.5 918V933M349.5 925V943M381.5 927V938M464.5 924V932M487.5 914V921M510.5 915V928M638.5 710V730M677.5 922V927M747.5 921V930M802.5 913V921M836.5 854V866M854.5 920V936M870.5 920V929M901.5 923V928M921.5 923V928M970.5 942V956M979.5 939V950M1017.5 940V955M1021.5 929V953M1058.5 935V951" stroke="#005c00" stroke-width="3" fill="none"/>
<path d="M313.0 924V945M385.0 919V938M470.0 924V935M762.0 921V932M794.0 915V924M892.0 922V931M975.0 940V961" stroke="#005c00" stroke-width="4" fill="none"/>
<path d="M991.5 940.4V949.6M992.5 940.7V943.4M1005.5 942.8V948.5M1010.5 942.8V949.9M1014.5 945.7V950.4M1016.5 937.5V948.3M1019.5 936.7V949.1M1021.5 942.7V950.5M1022.5 943.0V951.5M1024.5 934.0V947.1M1026.5 939.6V953.5M1029.5 936.7V942.5M1030.5 938.7V950.3M1031.5 940.5V949.4M1032.5 940.2V948.0M1033.5 942.1V948.4M1034.5 943.7V947.5M1036.5 939.0V953.7M1038.5 940.6V951.0M1039.5 942.5V949.9M1040.5 942.9V947.3M1042.5 937.0V952.2M1043.5 940.8V952.6M1044.5 940.0V941.5M1045.5 933.7V943.8M1050.5 936.5V951.3M1051.5 936.3V943.7M1053.5 946.9V954.2M1054.5 945.0V952.2M1055.5 945.5V947.8M1056.5 942.5V946.0M1057.5 935.5V945.7M1058.5 934.8V948.5M1059.5 936.6V950.1M1061.5 938.7V950.0M1063.5 949.5V952.7M1064.5 938.6V953.8M1065.5 938.7V949.7M1066.5 942.9V949.4M1068.5 936.7V950.0M1070.5 934.1V950.5M1071.5 943.7V950.9M1072.5 945.7V952.2M1073.5 943.8V952.4M1074.5 933.9V946.1M1075.5 935.5V943.3M1076.5 940.1V944.1M1077.5 940.0V946.7M1078.5 938.8V947.6M1079.5 938.1V943.5M1080.5 938.7V952.5" stroke="#005c00" stroke-width="1" fill="none"/>
<path d="M199 937h1.5M201 928h1.5M210 945h1.5M220 943h1.5M240 946h1.5M250 944h1.5M294 947h1.5M309 935h1.5M321 930h1.5M330 922h1.5M333 932h1.5M335 927h1.5M353 939h1.5M355 938h1.5M357 934h1.5M362 938h1.5M368 937h1.5M372 939h1.5M387 937h1.5M397 926h1.5M414 930h1.5M419 937h1.5M421 934h1.5M431 926h1.5M444 931h1.5M452 931h1.5M454 927h1.5M466 929h1.5M468 925h1.5M472 927h1.5M474 927h1.5M481 922h1.5M489 920h1.5M493 917h1.5M512 928h1.5M514 926h1.5M518 926h1.5M526 928h1.5M537 926h1.5M539 927h1.5M541 924h1.5M549 928h1.5M566 926h1.5M584 929h1.5M623 928h1.5M665 922h1.5M673 924h1.5M681 924h1.5M690 927h1.5M694 925h1.5M710 926h1.5M768 925h1.5M786 923h1.5M798 917h1.5M856 928h1.5M858 926h1.5M887 931h1.5M898 927h1.5M909 928h1.5M932 944h1.5M947 940h1.5M955 938h1.5M957 938h1.5M960 951h1.5M977 944h1.5M986 948h1.5M991 951h1.5M1002 945h1.5M1004 942h1.5M1019 942h1.5M1023 943h1.5M1025 938h1.5M1029 951h1.5M1034 949h1.5M1043 938h1.5M1055 940h1.5M1060 949h1.5M1065 941h1.5M197 937h5M208 948h4M224 941h5M241 941h3M257 940h3M262 944h3M292 940h5M301 947h2M313 934h2M331 927h3M366 935h4M381 932h2M385 931h5M433 930h4M442 928h4M470 923h3M487 920h2M510 920h2M530 932h5M535 926h5M550 930h3M560 930h2M603 934h3M671 925h3M686 926h4M692 927h3M747 925h3M794 918h5M802 918h4M812 918h4M816 906h4M820 890h5M825 883h4M829 867h4M870 926h4M876 928h4M892 927h5M905 923h5M921 924h5M937 942h3M943 942h3M953 942h3M970 952h5M982 946h4M987 944h4M1017 947h4M1021 943h3M1027 947h3M1038 945h2M1053 940h4M1067 941h4M1074 936h3" stroke="#005c00" stroke-width="1.5" fill="none"/>
<path d="M198 1022V1042M207 1027V1040M226 1027V1062M232 1017V1034M241 1008V1039M249 1014V1047M266 1002V1027M279 995V1048M286 1017V1031M294 991V1028M299 995V1042M308 1012V1023M347 993V1019M361 994V1015M368 989V1031M382 1002V1028M403 1004V1016M411 1007V1021M417 992V1017M441 989V1008M455 985V1004M473 988V1010M480 974V1000M487 973V990M496 981V994M512 978V988M524 987V997M531 991V1009M541 1000V1016M547 1002V1010M557 1000V1015M580 990V1002M603 1001V1014M612 998V1007M618 1002V1014M637 788V829M648 807V896M662 999V1010M687 998V1009M694 997V1006M702 995V1005M706 997V1004M719 1010V1027M726 1023V1029M735 1017V1025M741 1008V1022M746 1010V1016M752 1007V1017M768 992V1006M781 987V1002M796 984V999M815 945V995M817 940V955M828 945V956M845 934V970M852 1000V1015M875 988V1012M893 993V1016M899 989V1009M905 995V1019M920 1002V1019M932 1010V1022M939 1015V1038M962 1016V1030M975 1023V1031M990 1016V1035M999 1012V1033M1009 1012V1046M1017 1012V1033M1022 1027V1036M1035 1019V1037M1043 1016V1030M1048 1001V1029M1055 1015V1041M1059 1005V1045M1075 1014V1027M1079 1010V1041M894 979V1004M1040 987V1030" stroke="#dd0000" stroke-width="1.2" fill="none"/>
<path d="M217.0 1030V1045M221.0 1015V1049M226.0 1026V1043M232.0 1025V1036M279.0 1014V1034M294.0 1007V1021M308.0 1018V1023M317.0 996V1018M327.0 1004V1025M335.0 1010V1016M390.0 999V1022M417.0 1003V1012M464.0 988V1007M480.0 988V996M505.0 973V988M541.0 998V1005M547.0 1003V1011M566.0 1001V1009M570.0 998V1006M580.0 996V1001M587.0 997V1007M597.0 999V1004M668.0 1000V1007M678.0 995V1006M726.0 1024V1030M760.0 1003V1012M768.0 1002V1006M875.0 997V1003M899.0 999V1007M924.0 1011V1027M957.0 1026V1038M962.0 1020V1030M971.0 1023V1035M986.0 1016V1027M999.0 1023V1029M1004.0 1020V1034M1017.0 1024V1039M1022.0 1023V1038M1031.0 1015V1034M1065.0 1012V1031M1069.0 1007V1035M1075.0 1015V1025" stroke="#dd0000" stroke-width="2" fill="none"/>
<path d="M198.5 1025V1044M271.5 1016V1041M342.5 1005V1018M361.5 1011V1014M368.5 1007V1018M377.5 999V1019M394.5 993V1020M427.5 994V1012M434.5 998V1015M496.5 983V990M557.5 1002V1011M618.5 1008V1012M198.5 1000V1040M638.5 790V815M735.5 1018V1022M746.5 1013V1016M787.5 989V998M804.5 994V1004M828.5 946V950M859.5 996V1007M866.5 995V1001M880.5 993V1006M885.5 1000V1008M910.5 1004V1018M915.5 1002V1017M932.5 1013V1023M939.5 1019V1030M945.5 1019V1040M948.5 1027V1037M968.5 1014V1032M982.5 1020V1035M1028.5 1020V1036M1039.5 1017V1038M1052.5 1019V1036M1059.5 1019V1033" stroke="#dd0000" stroke-width="3" fill="none"/>
<path d="M213.0 1022V1039M257.0 1007V1045M353.0 999V1011M399.0 995V1014M449.0 992V1007M517.0 988V996M626.0 1006V1009M715.0 955V992M776.0 997V1002M952.0 1022V1040M994.0 1019V1032M1014.0 1027V1038" stroke="#dd0000" stroke-width="4" fill="none"/>
<path d="M961.5 1023.9V1035.6M962.5 1030.1V1034.5M968.5 1027.4V1034.9M971.5 1019.4V1031.4M978.5 1025.9V1036.7M981.5 1026.7V1039.9M982.5 1023.8V1039.3M986.5 1023.5V1036.0M990.5 1019.1V1032.7M993.5 1023.4V1030.4M995.5 1027.5V1035.0M997.5 1022.6V1029.2M998.5 1023.0V1037.3M1000.5 1024.6V1036.6M1001.5 1027.3V1037.5M1002.5 1023.7V1032.4M1005.5 1028.2V1030.5M1008.5 1026.1V1035.7M1009.5 1026.8V1029.8M1011.5 1021.1V1027.5M1012.5 1022.6V1025.4M1014.5 1023.4V1031.3M1016.5 1027.5V1029.8M1017.5 1017.4V1028.8M1018.5 1019.3V1027.3M1019.5 1022.1V1033.2M1020.5 1025.4V1031.0M1022.5 1028.9V1038.9M1023.5 1024.4V1031.4M1025.5 1021.5V1037.0M1028.5 1023.6V1035.2M1029.5 1024.0V1030.1M1030.5 1026.9V1036.2M1031.5 1029.7V1036.2M1032.5 1026.5V1035.5M1035.5 1014.6V1031.8M1036.5 1028.7V1031.4M1037.5 1023.9V1031.6M1038.5 1021.8V1029.6M1039.5 1024.9V1029.0M1041.5 1028.8V1037.5M1043.5 1025.4V1038.3M1045.5 1027.0V1042.3M1050.5 1023.6V1031.1M1051.5 1027.3V1031.2M1052.5 1020.7V1033.9M1053.5 1022.9V1036.3M1055.5 1013.3V1024.6M1056.5 1022.5V1029.9M1057.5 1026.9V1032.1M1058.5 1020.3V1031.2M1059.5 1021.7V1033.8M1060.5 1023.8V1031.7M1061.5 1024.2V1026.0M1062.5 1021.8V1033.5M1063.5 1029.3V1035.1M1064.5 1016.5V1031.8M1065.5 1018.7V1027.6M1066.5 1022.6V1031.4M1067.5 1026.7V1032.2M1069.5 1011.8V1026.2M1070.5 1023.9V1030.0M1071.5 1020.3V1025.5M1072.5 1022.8V1032.9M1073.5 1029.3V1033.1M1074.5 1022.1V1032.4M1076.5 1031.1V1037.1M1078.5 1028.0V1036.8M1079.5 1029.1V1036.2M1080.5 1028.7V1038.3" stroke="#dd0000" stroke-width="1" fill="none"/>
<path d="M200 1033h1.5M206 1041h1.5M247 1024h1.5M251 1018h1.5M253 1018h1.5M259 1015h1.5M261 1023h1.5M285 1019h1.5M301 1013h1.5M314 1018h1.5M323 1014h1.5M339 1010h1.5M363 1007h1.5M365 1011h1.5M370 1011h1.5M372 1010h1.5M374 1008h1.5M392 1008h1.5M396 1005h1.5M421 1012h1.5M433 1010h1.5M436 1007h1.5M453 1000h1.5M477 1001h1.5M482 990h1.5M491 980h1.5M500 986h1.5M514 988h1.5M561 1009h1.5M563 1006h1.5M595 1001h1.5M601 1002h1.5M607 1005h1.5M609 1006h1.5M616 1004h1.5M624 1008h1.5M632 1007h1.5M664 1004h1.5M674 1003h1.5M700 1001h1.5M704 999h1.5M737 1016h1.5M748 1013h1.5M791 993h1.5M798 994h1.5M806 996h1.5M823 945h1.5M838 948h1.5M870 999h1.5M895 1004h1.5M903 1001h1.5M909 1007h1.5M917 1012h1.5M936 1020h1.5M977 1025h1.5M988 1024h1.5M1006 1031h1.5M1011 1030h1.5M1050 1021h1.5M1067 1030h1.5M217 1034h2M271 1024h2M279 1026h2M294 1019h4M327 1020h5M335 1011h4M361 1019h2M368 1006h4M403 1004h4M427 1009h3M449 1003h5M455 1002h2M487 981h4M496 987h5M517 998h2M566 1002h3M626 1009h4M662 1002h3M694 1001h2M706 1007h5M726 1025h3M735 1020h4M746 1014h4M752 1011h3M781 996h2M817 947h4M859 999h5M920 1014h4M948 1030h3M952 1031h2M957 1034h4M982 1026h4M986 1020h2M990 1018h3M994 1024h4M1052 1032h2M1065 1015h2M1075 1025h5" stroke="#dd0000" stroke-width="1.5" fill="none"/>
<path d="M197 1129V1149M205 1123V1149M211 1132V1146M225 1134V1146M257 1137V1149M264 1122V1154M273 1106V1138M282 1097V1125M287 1090V1112M294 1080V1099M320 1086V1101M348 1078V1107M361 1080V1090M369 1070V1091M374 1073V1091M379 1082V1094M388 1084V1095M405 1072V1085M413 1061V1085M429 1066V1086M433 1051V1071M454 1056V1073M468 1046V1075M479 1047V1064M490 1038V1053M507 1045V1062M516 1046V1062M529 1046V1066M537 1051V1068M545 1057V1066M562 1065V1073M578 1062V1078M584 1068V1082M593 1065V1080M618 1068V1076M626 1066V1074M259 1130V1153M648 899V985M655 1057V1067M676 1072V1080M681 1072V1082M686 1073V1086M692 1066V1084M704 1066V1079M712 1069V1081M718 1077V1122M722 1119V1124M736 1126V1141M746 1113V1132M754 1114V1126M758 1111V1127M777 1099V1122M792 1098V1107M799 1096V1107M809 1083V1097M813 1071V1085M816 1059V1071M820 1045V1057M824 1028V1043M828 1019V1031M836 1022V1042M845 1059V1092M854 1096V1116M859 1109V1115M877 1112V1133M882 1107V1124M891 1113V1130M900 1115V1142M911 1127V1141M915 1135V1154M938 1131V1152M948 1127V1145M955 1127V1156M960 1130V1156M965 1135V1141M975 1127V1151M981 1128V1148M985 1127V1161M1002 1141V1147M1009 1127V1150M1013 1139V1151M1018 1129V1162M1024 1134V1149M1029 1130V1156M1039 1138V1155M1045 1138V1160M1051 1135V1162M1068 1120V1147M1076 1116V1139M1079 1129V1154" stroke="#0000dd" stroke-width="1.2" fill="none"/>
<path d="M211.0 1131V1146M217.0 1129V1155M233.0 1126V1149M264.0 1131V1136M273.0 1124V1127M282.0 1108V1116M361.0 1084V1088M379.0 1086V1092M398.0 1080V1093M413.0 1072V1083M423.0 1064V1082M468.0 1056V1067M516.0 1052V1059M551.0 1056V1069M566.0 1061V1068M573.0 1068V1071M578.0 1073V1075M584.0 1072V1078M593.0 1071V1076M601.0 1070V1075M608.0 1067V1075M618.0 1070V1076M626.0 1070V1076M666.0 1070V1077M670.0 1068V1082M698.0 1070V1074M746.0 1119V1122M769.0 1115V1120M806.0 1093V1102M882.0 1112V1121M903.0 1131V1148M938.0 1134V1144M955.0 1134V1140M960.0 1130V1140M981.0 1132V1142M1002.0 1141V1146M1018.0 1148V1152M1024.0 1139V1142M1045.0 1145V1157M1055.0 1137V1148" stroke="#0000dd" stroke-width="2" fill="none"/>
<path d="M225.5 1137V1146M294.5 1087V1100M300.5 1085V1096M308.5 1090V1103M316.5 1085V1103M320.5 1085V1099M326.5 1081V1103M332.5 1077V1096M338.5 1072V1096M352.5 1081V1101M388.5 1090V1092M418.5 1067V1075M464.5 1053V1067M473.5 1052V1065M507.5 1046V1051M521.5 1050V1064M556.5 1061V1070M637.5 879V905M716.5 1044V1077M869.5 1105V1120M891.5 1118V1124M931.5 1131V1152M944.5 1135V1145M969.5 1129V1141M997.5 1137V1154M1061.5 1134V1142M1064.5 1127V1145M1073.5 1131V1147" stroke="#0000dd" stroke-width="3" fill="none"/>
<path d="M239.0 1140V1151M248.0 1143V1161M440.0 1061V1076M448.0 1057V1070M486.0 1039V1059M499.0 1039V1048M764.0 1110V1122M784.0 1103V1114M923.0 1127V1140M990.0 1133V1152M1035.0 1136V1153" stroke="#0000dd" stroke-width="4" fill="none"/>
<path d="M987.5 1143.0V1148.9M991.5 1142.8V1145.0M999.5 1131.7V1142.6M1007.5 1140.7V1145.6M1009.5 1136.2V1144.0M1010.5 1137.1V1143.3M1012.5 1137.9V1144.5M1013.5 1135.4V1146.4M1014.5 1143.6V1146.0M1015.5 1138.4V1146.0M1016.5 1139.5V1141.5M1018.5 1140.5V1149.8M1019.5 1139.0V1143.1M1020.5 1138.9V1144.8M1024.5 1139.6V1146.6M1025.5 1136.9V1154.2M1026.5 1134.0V1153.3M1028.5 1141.3V1152.0M1031.5 1138.3V1144.1M1034.5 1137.4V1142.4M1035.5 1140.0V1143.2M1036.5 1138.1V1144.3M1040.5 1139.2V1149.5M1043.5 1141.4V1147.8M1045.5 1128.4V1138.5M1046.5 1135.3V1139.8M1048.5 1137.8V1147.0M1049.5 1135.0V1143.0M1050.5 1141.1V1145.4M1052.5 1140.7V1146.0M1053.5 1140.8V1147.1M1055.5 1139.5V1145.5M1056.5 1135.8V1141.7M1057.5 1130.1V1141.3M1059.5 1134.7V1137.4M1060.5 1132.2V1139.8M1061.5 1139.4V1143.1M1062.5 1136.8V1141.6M1063.5 1136.5V1140.0M1064.5 1134.6V1143.5M1065.5 1134.5V1144.3M1066.5 1139.3V1149.8M1067.5 1137.9V1149.6M1068.5 1140.2V1146.0M1069.5 1142.5V1149.7M1070.5 1135.2V1149.9M1071.5 1135.6V1143.8M1072.5 1137.6V1143.5M1073.5 1135.0V1143.1M1074.5 1139.2V1146.1M1075.5 1141.4V1148.2M1076.5 1138.0V1149.3M1077.5 1139.3V1147.8M1078.5 1143.6V1146.7M1080.5 1139.3V1148.7" stroke="#0000dd" stroke-width="1" fill="none"/>
<path d="M201 1133h1.5M215 1135h1.5M256 1145h1.5M312 1100h1.5M314 1087h1.5M330 1091h1.5M336 1080h1.5M340 1088h1.5M342 1091h1.5M354 1094h1.5M365 1085h1.5M381 1088h1.5M390 1087h1.5M404 1091h1.5M422 1069h1.5M427 1071h1.5M437 1073h1.5M444 1065h1.5M466 1057h1.5M475 1057h1.5M483 1049h1.5M503 1042h1.5M505 1046h1.5M511 1052h1.5M518 1056h1.5M523 1058h1.5M525 1056h1.5M527 1058h1.5M533 1060h1.5M539 1062h1.5M558 1067h1.5M570 1067h1.5M572 1065h1.5M588 1077h1.5M590 1078h1.5M603 1071h1.5M610 1071h1.5M614 1073h1.5M624 1074h1.5M694 1071h1.5M710 1071h1.5M716 1074h1.5M748 1118h1.5M766 1114h1.5M773 1115h1.5M796 1104h1.5M812 1099h1.5M856 1110h1.5M867 1111h1.5M879 1117h1.5M897 1117h1.5M925 1134h1.5M929 1137h1.5M933 1136h1.5M935 1139h1.5M937 1141h1.5M942 1142h1.5M952 1136h1.5M957 1133h1.5M987 1149h1.5M989 1143h1.5M999 1145h1.5M1015 1148h1.5M1020 1152h1.5M1022 1150h1.5M1028 1142h1.5M1037 1140h1.5M1049 1147h1.5M1057 1142h1.5M197 1125h3M239 1141h2M248 1156h4M257 1147h2M264 1138h2M273 1122h5M282 1109h3M300 1095h2M308 1098h3M320 1084h3M332 1085h4M338 1086h2M369 1085h5M388 1085h4M405 1075h5M429 1066h3M433 1069h5M454 1055h4M490 1043h5M545 1064h4M551 1060h2M556 1065h3M584 1077h2M593 1074h5M666 1075h2M670 1075h4M704 1074h5M746 1121h3M805 1097h4M809 1085h4M813 1071h3M816 1057h4M820 1043h4M824 1031h4M869 1118h3M877 1115h5M882 1118h2M891 1125h3M931 1142h4M960 1140h3M965 1139h5M969 1134h4M975 1136h2M981 1137h3M985 1143h2M1002 1140h5M1009 1145h4M1018 1150h2M1045 1152h3M1064 1137h5" stroke="#0000dd" stroke-width="1.5" fill="none"/>
<path d="M203 1204V1242M207 1203V1229M233 1198V1246M237 1228V1256M241 1223V1252M248 1215V1251M254 1216V1239M259 1196V1244M266 1199V1231M296 1175V1203M320 1156V1180M325 1173V1192M333 1169V1199M341 1169V1184M350 1154V1190M363 1148V1168M380 1143V1176M394 1150V1176M423 1134V1160M432 1147V1156M444 1141V1161M487 1116V1146M509 1117V1139M514 1125V1141M522 1133V1150M531 1127V1155M547 1133V1150M561 1132V1153M567 1132V1150M585 1144V1155M590 1143V1157M616 1151V1158M259 1235V1265M637 967V1002M648 991V1074M655 1141V1151M667 1153V1161M675 1149V1164M681 1151V1159M697 1146V1160M718 1171V1256M726 1228V1256M744 1219V1230M768 1210V1218M775 1205V1213M790 1200V1214M799 1187V1197M807 1178V1189M811 1165V1180M814 1156V1165M818 1143V1153M821 1130V1142M829 1113V1129M845 1144V1164M855 1190V1212M869 1201V1213M894 1198V1215M904 1206V1239M910 1213V1250M913 1227V1248M917 1217V1244M922 1224V1235M935 1223V1252M938 1222V1239M945 1222V1237M951 1209V1244M954 1224V1250M962 1230V1251M968 1229V1245M972 1225V1234M975 1223V1241M995 1224V1247M1000 1209V1240M1006 1220V1231M1011 1215V1231M1024 1213V1246M1028 1219V1238M1039 1228V1240M1050 1222V1241M1060 1232V1251M1063 1224V1244M1076 1218V1230M1079 1211V1237" stroke="#005c00" stroke-width="1.2" fill="none"/>
<path d="M207.0 1222V1232M215.0 1205V1242M233.0 1216V1235M313.0 1163V1178M345.0 1157V1180M350.0 1162V1172M363.0 1155V1167M388.0 1155V1175M408.0 1147V1160M415.0 1150V1168M440.0 1143V1151M451.0 1141V1155M469.0 1132V1144M479.0 1122V1136M495.0 1124V1138M585.0 1149V1152M605.0 1149V1154M610.0 1151V1155M625.0 1153V1161M667.0 1154V1160M681.0 1155V1161M689.0 1154V1163M739.0 1219V1229M750.0 1212V1225M760.0 1211V1221M784.0 1201V1208M821.0 1126V1131M829.0 1119V1123M834.0 1114V1123M862.0 1196V1209M877.0 1196V1205M927.0 1217V1231M930.0 1221V1236M938.0 1223V1233M945.0 1228V1237M951.0 1223V1233M975.0 1226V1232M982.0 1221V1241M1011.0 1218V1233M1018.0 1218V1237M1024.0 1229V1236M1028.0 1226V1241M1046.0 1223V1246" stroke="#005c00" stroke-width="2" fill="none"/>
<path d="M224.5 1214V1240M254.5 1221V1239M282.5 1203V1221M305.5 1168V1187M320.5 1174V1182M373.5 1159V1168M399.5 1153V1170M461.5 1136V1153M487.5 1126V1135M501.5 1121V1134M514.5 1128V1137M522.5 1135V1141M554.5 1134V1146M600.5 1147V1156M638.5 975V995M716.5 1156V1171M869.5 1199V1210M884.5 1195V1212M954.5 1232V1243M968.5 1226V1236M988.5 1222V1243M1034.5 1232V1246M1042.5 1223V1236M1071.5 1229V1240" stroke="#005c00" stroke-width="3" fill="none"/>
<path d="M196.0 1214V1234M273.0 1206V1219M291.0 1190V1209M358.0 1150V1176M540.0 1133V1146M573.0 1143V1148M578.0 1145V1149M705.0 1152V1155M1054.0 1219V1242M1067.0 1218V1242" stroke="#005c00" stroke-width="4" fill="none"/>
<path d="M985.5 1230.7V1233.5M986.5 1224.0V1232.7M987.5 1224.2V1231.4M988.5 1227.2V1232.6M989.5 1229.2V1239.7M991.5 1225.8V1234.1M992.5 1225.5V1233.9M994.5 1226.7V1233.3M995.5 1225.5V1231.0M998.5 1228.8V1238.7M1000.5 1227.6V1233.4M1001.5 1226.5V1231.4M1004.5 1228.2V1234.9M1007.5 1227.1V1232.3M1008.5 1229.5V1232.6M1011.5 1230.8V1240.4M1013.5 1225.3V1235.7M1014.5 1223.7V1237.5M1016.5 1231.5V1237.5M1017.5 1231.9V1240.8M1018.5 1235.0V1241.8M1019.5 1229.9V1242.8M1021.5 1229.3V1239.7M1022.5 1236.8V1243.3M1023.5 1227.3V1243.4M1026.5 1229.3V1239.8M1027.5 1230.3V1240.3M1029.5 1231.4V1241.7M1030.5 1230.5V1233.4M1032.5 1230.3V1238.0M1033.5 1231.1V1240.0M1034.5 1231.8V1236.9M1035.5 1228.6V1233.9M1036.5 1226.8V1235.2M1037.5 1228.7V1235.2M1038.5 1226.9V1234.0M1039.5 1225.6V1232.2M1041.5 1234.5V1240.0M1042.5 1237.3V1240.7M1043.5 1226.8V1238.1M1044.5 1224.9V1231.5M1045.5 1221.6V1232.0M1047.5 1226.8V1233.5M1048.5 1229.4V1245.4M1049.5 1231.0V1245.5M1050.5 1230.1V1241.7M1051.5 1236.1V1242.5M1052.5 1234.2V1240.2M1053.5 1231.4V1236.0M1054.5 1232.2V1236.1M1056.5 1231.9V1243.9M1057.5 1232.2V1237.2M1058.5 1232.7V1239.4M1060.5 1216.4V1243.0M1061.5 1229.0V1242.4M1062.5 1228.7V1236.6M1063.5 1232.8V1240.1M1064.5 1226.7V1237.3M1065.5 1225.6V1239.8M1067.5 1220.2V1228.5M1069.5 1224.9V1234.6M1070.5 1226.3V1231.5M1071.5 1226.8V1234.9M1072.5 1231.4V1242.5M1073.5 1235.2V1241.9M1074.5 1234.1V1241.9M1075.5 1231.6V1236.4M1077.5 1231.9V1236.7M1078.5 1232.3V1237.2M1079.5 1229.9V1237.9" stroke="#005c00" stroke-width="1" fill="none"/>
<path d="M219 1236h1.5M247 1247h1.5M263 1222h1.5M270 1212h1.5M275 1218h1.5M279 1208h1.5M286 1208h1.5M288 1209h1.5M304 1176h1.5M309 1174h1.5M311 1173h1.5M322 1174h1.5M327 1183h1.5M354 1171h1.5M367 1160h1.5M369 1160h1.5M371 1165h1.5M403 1153h1.5M410 1154h1.5M417 1153h1.5M455 1146h1.5M467 1141h1.5M471 1136h1.5M473 1137h1.5M483 1128h1.5M485 1130h1.5M491 1131h1.5M499 1128h1.5M516 1128h1.5M518 1135h1.5M528 1138h1.5M542 1138h1.5M569 1142h1.5M575 1145h1.5M589 1150h1.5M592 1150h1.5M594 1151h1.5M596 1151h1.5M624 1158h1.5M631 1157h1.5M633 1154h1.5M673 1156h1.5M687 1156h1.5M695 1159h1.5M709 1153h1.5M754 1219h1.5M756 1218h1.5M762 1216h1.5M779 1210h1.5M796 1198h1.5M825 1125h1.5M831 1117h1.5M859 1199h1.5M868 1204h1.5M875 1207h1.5M883 1209h1.5M886 1205h1.5M888 1206h1.5M890 1203h1.5M896 1207h1.5M912 1238h1.5M924 1231h1.5M940 1224h1.5M947 1227h1.5M953 1231h1.5M960 1240h1.5M964 1238h1.5M974 1229h1.5M979 1237h1.5M990 1234h1.5M999 1234h1.5M1002 1231h1.5M1015 1228h1.5M1020 1229h1.5M1026 1232h1.5M1056 1225h1.5M1062 1242h1.5M203 1224h5M224 1226h2M248 1236h5M254 1233h3M266 1214h5M282 1218h5M325 1177h4M350 1170h2M373 1165h5M388 1163h4M408 1157h2M415 1151h2M432 1150h2M440 1150h5M444 1143h4M469 1135h3M501 1128h4M509 1133h3M514 1133h3M531 1140h2M578 1144h3M600 1154h5M605 1154h4M675 1156h2M681 1156h2M739 1223h2M768 1214h2M790 1205h5M804 1189h3M807 1180h4M811 1165h3M814 1153h4M818 1142h3M821 1127h3M855 1202h3M884 1205h3M927 1223h5M935 1231h3M938 1238h4M954 1239h5M975 1233h3M982 1235h5M995 1235h5M1011 1229h3M1024 1228h4M1028 1236h3M1042 1231h5M1046 1229h3M1054 1226h5M1060 1243h5M1076 1219h4" stroke="#005c00" stroke-width="1.5" fill="none"/>
<path d="M195.5 97.5V1306" stroke="#0000dd" stroke-width="3" fill="none"/>
<path d="M194 1306H1082" stroke="#6a6ada" stroke-width="2" fill="none"/>
<path d="M302.0 1306V1289" stroke="#5555dd" stroke-width="1.5" fill="none"/>
<path d="M409.6 1306V1289" stroke="#5555dd" stroke-width="1.5" fill="none"/>
<path d="M517.2 1306V1289" stroke="#5555dd" stroke-width="1.5" fill="none"/>
<path d="M624.8 1306V1289" stroke="#5555dd" stroke-width="1.5" fill="none"/>
<path d="M732.4 1306V1289" stroke="#5555dd" stroke-width="1.5" fill="none"/>
<path d="M840.0 1306V1289" stroke="#5555dd" stroke-width="3.0" fill="none"/>
<path d="M947.6 1306V1289" stroke="#5555dd" stroke-width="1.5" fill="none"/>
<path d="M1055.2 1306V1289" stroke="#5555dd" stroke-width="1.5" fill="none"/>
<path d="M196 380.5H212" stroke="#0000dd" stroke-width="2.5" fill="none"/>
<path d="M196 783.5H212" stroke="#0000dd" stroke-width="2" fill="none"/>
<path d="M196 1186H212" stroke="#6a6ada" stroke-width="2" fill="none"/>
<g font-family="Liberation Serif" fill="#000" stroke="#fff" stroke-width="0.5"><text x="224.0" y="1352" font-size="46" text-anchor="middle">4000</text>
<text x="331.4" y="1352" font-size="46" text-anchor="middle">3600</text>
<text x="438.7" y="1352" font-size="46" text-anchor="middle">3200</text>
<text x="546.0" y="1352" font-size="46" text-anchor="middle">2800</text>
<text x="653.4" y="1352" font-size="46" text-anchor="middle">2400</text>
<text x="760.8" y="1352" font-size="46" text-anchor="middle">2000</text>
<text x="868.1" y="1352" font-size="46" text-anchor="middle">1600</text>
<text x="975.4" y="1352" font-size="46" text-anchor="middle">1200</text>
<text x="1082.8" y="1352" font-size="46" text-anchor="middle">800</text>
<text x="170.5" y="390" font-size="46" text-anchor="end">1</text>
<text x="170.5" y="794" font-size="46" text-anchor="end">0.5</text>
<text x="172" y="1196.5" font-size="46" text-anchor="end">0</text>
<text x="1103" y="327.0" font-size="45">673</text>
<text x="1103" y="407.0" font-size="45">643</text>
<text x="1103" y="588.5" font-size="45">603</text>
<text x="1103" y="684.0" font-size="45">583</text>
<text x="1103" y="770.0" font-size="45">523</text>
<text x="1103" y="966.5" font-size="45">463</text>
<text x="1103" y="1055.5" font-size="45">443</text>
<text x="1103" y="1161.0" font-size="45">343</text>
<text x="1103" y="1245.0" font-size="45">303</text>
<text x="1081" y="253" font-size="45" font-weight="bold" letter-spacing="0.8">T (K)</text>
<rect x="1081" y="258" width="107" height="3" fill="#000"/>
<text transform="translate(301.0 286.5) rotate(-90)" font-size="46" stroke-width="0.9">3740</text>
<text transform="translate(647.0 104.5) rotate(-90)" font-size="46" stroke-width="0.9">2350</text>
<text transform="translate(732.0 314.0) rotate(-90)" font-size="46" stroke-width="0.9">2049</text>
<text transform="translate(836.0 288.5) rotate(-90)" font-size="46" stroke-width="0.9">1625</text>
<text transform="translate(872.0 312.0) rotate(-90)" font-size="46" stroke-width="0.9">1586</text>
<text transform="translate(910.2 894.0) rotate(-90)" font-size="46" stroke-width="0.9">1392</text>
<text transform="translate(940.0 1124.5) rotate(-90)" font-size="46" stroke-width="0.9">1338</text>
<text transform="translate(65 873) rotate(-90)" font-size="62">Absorbance</text>
<text x="509.5" y="1457" font-size="62">Wavenumber (cm<tspan font-size="30" x="950.5" y="1436.5">−</tspan><tspan font-size="40" x="969" y="1440">1</tspan><tspan x="985" y="1457">)</tspan></text></g>
</svg></body></html>
